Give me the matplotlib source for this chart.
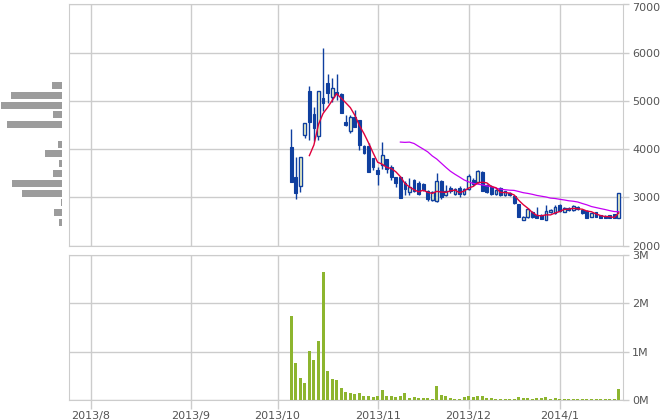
import numpy as np
import pandas as pd
import matplotlib
matplotlib.use("Agg")
import matplotlib.pyplot as plt
from matplotlib.transforms import ScaledTranslation

# -------------------------------------------------------
# Data
# -------------------------------------------------------

# trading-day index of the first day of each month, and the labels
month_idx    = [0, 22, 41, 63, 83, 103]
month_labels = ["2013/8", "2013/9", "2013/10", "2013/11", "2013/12", "2014/1"]

first_idx = 44   # first trading day of the stock

opens  = [4040, 3430, 3230, 4300, 5200, 4720, 4260, 5050, 5360, 5070,
          5190, 5150, 4560, 4380, 4660, 4600, 4070, 4070, 3810, 3570,
          3670, 3790, 3620, 3410, 3420, 3290, 3100, 3350, 3290, 3280,
          3120, 2950, 2930, 3330, 3050, 3200, 3060, 3190, 3060, 3170,
          3360, 3310, 3520, 3250, 3220, 3070, 3190, 3050, 3090, 3030,
          2860, 2530, 2600, 2700, 2630, 2630, 2530, 2690, 2670, 2840,
          2700, 2770, 2740, 2800, 2740, 2720, 2600, 2690, 2630, 2620,
          2630, 2650, 2580]
highs  = [4410, 3830, 3840, 4540, 5300, 4880, 5210, 6090, 5550, 5470,
          5550, 5160, 4700, 4700, 4800, 4600, 4080, 4120, 3810, 3630,
          4140, 3790, 3670, 3410, 3440, 3330, 3400, 3380, 3340, 3300,
          3160, 3120, 3500, 3360, 3250, 3240, 3200, 3230, 3200, 3480,
          3400, 3560, 3540, 3280, 3250, 3170, 3210, 3130, 3110, 3040,
          2870, 2620, 2770, 2720, 2790, 2650, 2840, 2760, 2840, 2860,
          2790, 2800, 2840, 2820, 2750, 2730, 2680, 2700, 2640, 2630,
          2640, 2660, 3090]
lows   = [3320, 2960, 3110, 4220, 4190, 4170, 4190, 4780, 4950, 4980,
          5020, 4740, 4480, 4330, 4460, 3980, 3900, 3530, 3560, 3250,
          3580, 3500, 3360, 3220, 2980, 3050, 3050, 3100, 3040, 3120,
          2920, 2920, 2900, 2970, 3020, 3080, 3040, 3000, 3040, 3150,
          3240, 3290, 3120, 3080, 3050, 3050, 3030, 3030, 3030, 2860,
          2590, 2520, 2580, 2580, 2560, 2540, 2520, 2680, 2650, 2700,
          2690, 2720, 2720, 2740, 2660, 2570, 2590, 2590, 2570, 2560,
          2570, 2560, 2580]
closes = [3320, 3090, 3830, 4530, 4550, 4430, 5210, 4960, 5160, 5260,
          5140, 4740, 4490, 4660, 4460, 4080, 3910, 3530, 3630, 3480,
          3880, 3580, 3410, 3290, 2980, 3170, 3220, 3120, 3070, 3150,
          2960, 3100, 3330, 3000, 3120, 3120, 3170, 3060, 3170, 3440,
          3280, 3540, 3130, 3100, 3070, 3150, 3050, 3120, 3040, 2880,
          2600, 2600, 2750, 2600, 2570, 2550, 2710, 2740, 2800, 2720,
          2770, 2740, 2820, 2760, 2670, 2580, 2670, 2600, 2580, 2570,
          2580, 2570, 3080]
# volume in millions of shares
volumes = [1.74, 0.76, 0.45, 0.345, 1.005, 0.82, 1.21, 2.66, 0.595, 0.43,
           0.41, 0.24, 0.16, 0.138, 0.113, 0.135, 0.076, 0.076, 0.056, 0.076,
           0.20, 0.076, 0.076, 0.056, 0.076, 0.132, 0.035, 0.056, 0.045, 0.045,
           0.045, 0.02, 0.278, 0.09, 0.076, 0.035, 0.018, 0.018, 0.056, 0.083,
           0.056, 0.076, 0.076, 0.035, 0.035, 0.018, 0.018, 0.018, 0.018, 0.018,
           0.056, 0.035, 0.035, 0.018, 0.035, 0.035, 0.056, 0.018, 0.035, 0.018,
           0.018, 0.018, 0.018, 0.018, 0.018, 0.018, 0.018, 0.018, 0.018, 0.018,
           0.018, 0.018, 0.222]

# price-by-volume profile (left side): bin centres and relative length
profile_price = [5317, 5114, 4912, 4709, 4507, 4304, 4101, 3899,
                 3696, 3494, 3291, 3088, 2886, 2683, 2481]
profile_size  = [10, 51, 61, 9, 55, 0, 4, 17, 3, 9, 50, 40, 1, 8, 3]

# -------------------------------------------------------
# Style
# -------------------------------------------------------

BLUE    = "#0f3f9f"
HOLLOW  = "#ffffc8"
RED     = "#e0003c"
VIOLET  = "#c400f4"
GREEN   = "#8db52f"
GRAY    = "#9c9c9c"
GRID    = "#cccccc"
TXT     = "#555555"

plt.rcParams["font.family"] = ["DejaVu Sans"]
plt.rcParams["font.size"] = 8

W, H = 660, 420
fig = plt.figure(figsize=(W / 100, H / 100), dpi=100)

left, right = 69, 623.3
ax_p = fig.add_axes([left / W, (H - 245.5) / H, (right - left) / W, 241.2 / H])
ax_v = fig.add_axes([left / W, (H - 399.7) / H, (right - left) / W, 144.4 / H])
ax_h = fig.add_axes([0, (H - 245.5) / H, 62 / W, 241.2 / H])

x = np.arange(first_idx, first_idx + len(closes))
o = np.array(opens); c = np.array(closes)
hi = np.array(highs); lo = np.array(lows)

xlim = (-4.84, 117.0)

for ax in (ax_p, ax_v):
    ax.set_xlim(*xlim)
    ax.set_xticks(month_idx)
    ax.grid(True, color=GRID, lw=1)
    ax.set_axisbelow(True)
    for s in ax.spines.values():
        s.set_color(GRID)
    ax.yaxis.tick_right()
    # tick length / pad are in points: ~6 px mark, ~3 px gap
    ax.tick_params(axis="y", colors=GRID, labelcolor=TXT, length=4.3, width=1, pad=2.0)

# price panel
ax_p.set_ylim(2000, 7000)
ax_p.set_yticks([2000, 3000, 4000, 5000, 6000, 7000])
ax_p.tick_params(axis="x", length=0, labelbottom=False)

ax_p.vlines(x, lo, hi, color=BLUE, lw=1, zorder=2)
up = c >= o
bw = 0.62
body_h = np.maximum(np.abs(c - o), 12)
ax_p.bar(x[~up], body_h[~up], bottom=np.minimum(o, c)[~up], width=bw,
         color=BLUE, edgecolor=BLUE, lw=0.8, zorder=3)
ax_p.bar(x[up], body_h[up], bottom=np.minimum(o, c)[up], width=bw,
         color=HOLLOW, edgecolor=BLUE, lw=1, zorder=3)

ma5  = pd.Series(closes).rolling(5).mean()
ma25 = pd.Series(closes).rolling(25).mean()
ax_p.plot(x, ma25, color=VIOLET, lw=0.9, zorder=4)
ax_p.plot(x, ma5, color=RED, lw=1.0, zorder=4)

# top label sits a little lower so it is not clipped
top_lbl = ax_p.yaxis.get_major_ticks()[-1].label2
top_lbl.set_transform(top_lbl.get_transform() +
                      ScaledTranslation(0, -2.4 / 100, fig.dpi_scale_trans))

# volume panel
ax_v.set_ylim(0, 3)
ax_v.set_yticks([0, 1, 2, 3])
ax_v.set_yticklabels(["0M", "1M", "2M", "3M"])
ax_v.bar(x, volumes, width=0.66, color=GREEN, zorder=3)
ax_v.set_xticklabels(month_labels)
ax_v.tick_params(axis="x", colors=GRID, labelcolor=TXT, length=6.5, width=1, pad=1.5)

# price-by-volume profile
ax_h.set_ylim(2000, 7000)
ax_h.set_xlim(62, 0)
ax_h.barh(profile_price, profile_size, height=145, color=GRAY)
ax_h.axis("off")

fig.savefig("out.png", dpi=100)
